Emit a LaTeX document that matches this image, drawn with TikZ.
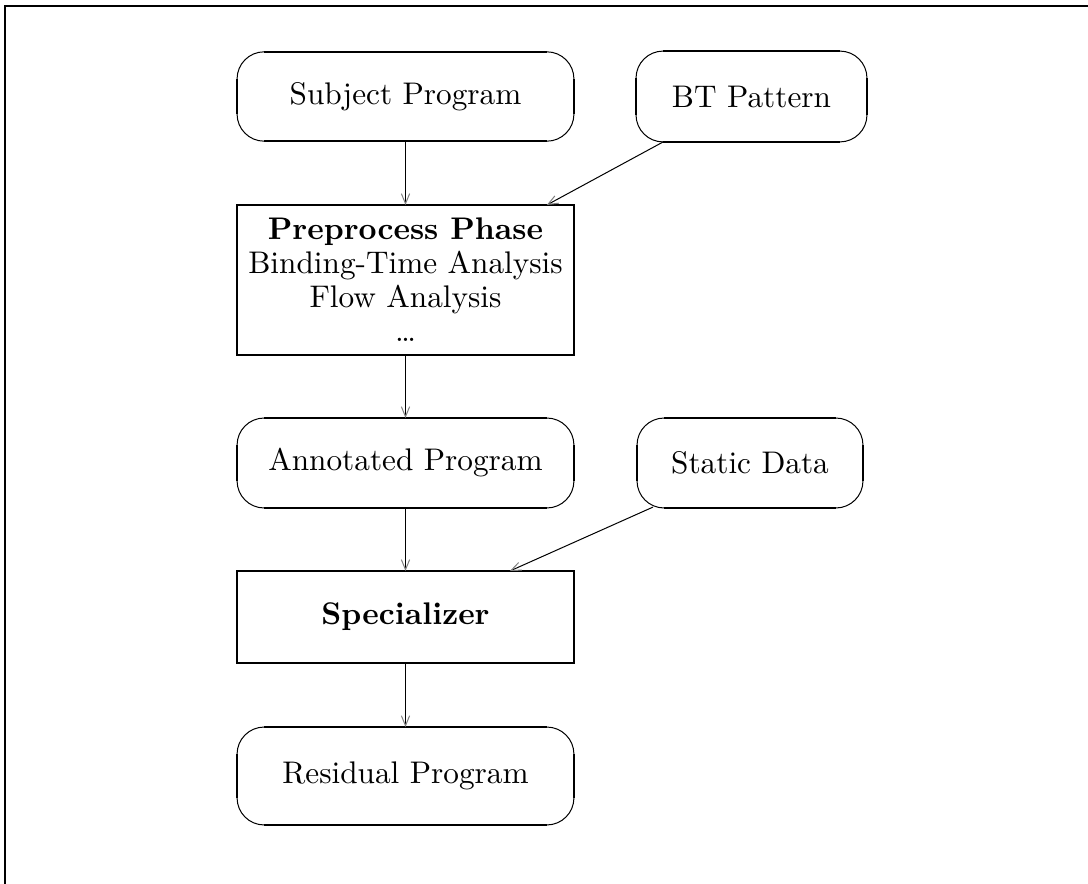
\documentclass[tikz,border=0pt]{standalone}
\usetikzlibrary{arrows.meta}

% rounded box: thin corner arcs, heavier straight edges
\newcommand\roundframe[1]{%
  \draw[thinedge, rounded corners=9.2pt] (#1.north west) rectangle (#1.south east);
  \draw[thickedge] ([xshift=9.2pt]#1.north west) -- ([xshift=-9.2pt]#1.north east);
  \draw[thickedge] ([xshift=9.2pt]#1.south west) -- ([xshift=-9.2pt]#1.south east);
  \draw[thickedge] ([yshift=-9.2pt]#1.north west) -- ([yshift=9.2pt]#1.south west);
  \draw[thickedge] ([yshift=-9.2pt]#1.north east) -- ([yshift=9.2pt]#1.south east);
}

\begin{document}
\begin{tikzpicture}[x=0.339pt, y=-0.339pt,
  every node/.style={inner sep=0pt, outer sep=0pt},
  txt/.style={font=\fontsize{10.6}{12.7}\selectfont},
  boldtxt/.style={font=\fontsize{10.6}{12.7}\selectfont\bfseries},
  roundbox/.style={txt, minimum width=114.2pt, minimum height=30.3pt},
  squarebox/.style={draw, line width=0.68pt, minimum width=114.2pt},
  thinedge/.style={line width=0.34pt},
  thickedge/.style={line width=0.68pt},
  frameline/.style={line width=0.68pt},
  conn/.style={line width=0.34pt,
    -{Straight Barb[length=3.4pt, width=2.8pt, line width=0.34pt, color=black!50]}}
]
\useasboundingbox (0,0) rectangle (1088,884);

% outer frame
\draw[frameline] (5,900) -- (5,6) -- (1100,6);

% boxes
\node[roundbox] (subj) at (405.5,96.5) {Subject Program};
\node[roundbox, minimum width=78.3pt, minimum height=30.8pt] (bt) at (751.5,96.5) {BT Pattern};
\node[squarebox, minimum height=50.85pt] (pre) at (405.5,280) {};
\node[boldtxt, anchor=base] (preA) at (405.5,239) {Preprocess Phase};
\node[txt, anchor=base] (preB) at (405.5,273) {Binding-Time Analysis};
\node[txt, anchor=base] (preC) at (405.5,307) {Flow Analysis};
\node[txt, anchor=base] (preD) at (405.5,341) {\ldots};
\node[roundbox, minimum height=30.5pt] (ann) at (405.5,463) {Annotated Program};
\node[roundbox, minimum width=76.6pt, minimum height=30.5pt] (sd) at (750,463) {Static Data};
\node[squarebox, boldtxt, minimum height=31.2pt] (spec) at (405.5,617) {Specializer};
\node[roundbox, minimum height=33.2pt] (res) at (405.5,776) {Residual Program};

\roundframe{subj}
\roundframe{bt}
\roundframe{ann}
\roundframe{sd}
\roundframe{res}

% connectors
\draw[conn] (subj.south) -- (pre.north);
\draw[conn] ([xshift=9.2pt]bt.south west) -- ([xshift=-9.2pt]pre.north east);
\draw[conn] (pre.south) -- (ann.north);
\draw[conn] (ann.south) -- (spec.north);
\draw[conn] ([xshift=5.4pt,yshift=0.3pt]sd.south west) -- ([xshift=-21.7pt]spec.north east);
\draw[conn] (spec.south) -- (res.north);
\end{tikzpicture}
\end{document}
